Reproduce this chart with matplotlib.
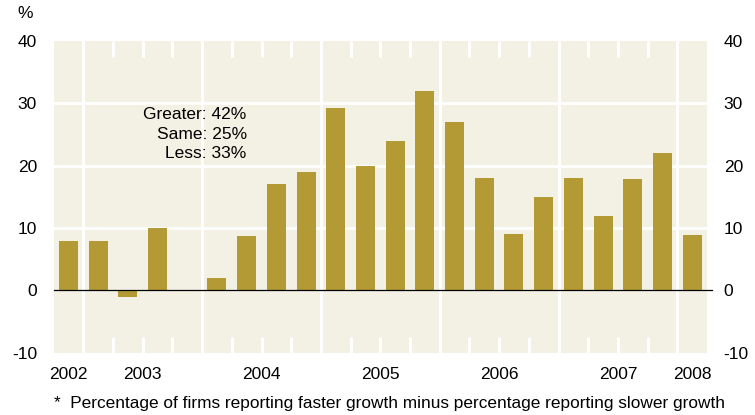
import matplotlib.pyplot as plt
import numpy as np

plt.rcParams['font.family'] = ['Liberation Sans', 'DejaVu Sans']

# quarterly-ish slots, 2002 .. 2008 (slot 4 has no value)
values = [8, 8, -1, 10, np.nan, 2, 8.8, 17, 19, 29.2, 20, 24, 32, 27, 18,
          9, 15, 18.1, 12, 17.8, 22, 8.9]
years = ['2002', '2003', '2004', '2005', '2006', '2007', '2008']
year_pos = [0, 2.5, 6.5, 10.5, 14.5, 18.5, 21]
year_bounds = [0.5, 4.5, 8.5, 12.5, 16.5, 20.5]
yticks = [-10, 0, 10, 20, 30, 40]
note_lines = ['Greater: 42%', 'Same: 25%', 'Less: 33%']

bar_color = '#B39A35'
bg = '#F3F0E4'
fs = 12.5

fig = plt.figure(figsize=(7.55, 4.15), dpi=100)
ax = fig.add_axes([0.071, 0.150, 0.8655, 0.751])
ax.set_facecolor(bg)
for s in ax.spines.values():
    s.set_visible(False)

x = np.arange(len(values))
ax.set_xlim(-0.5, len(values) - 0.5)
ax.set_ylim(-10, 40)

# white grid
for y in [10, 20, 30]:
    ax.axhline(y, color='white', lw=2, zorder=1)
for b in year_bounds:
    ax.axvline(b, color='white', lw=2.2, zorder=1)
short = [b + 0.5 for b in range(len(values) - 1) if b + 0.5 not in year_bounds]
ax.vlines(short, 37.4, 40, color='white', lw=2.2, zorder=1)
ax.vlines(short, -10, -7.4, color='white', lw=2.2, zorder=1)

ax.bar(x, values, width=0.64, color=bar_color, zorder=2)
ax.axhline(0, color='black', lw=0.9, zorder=3, xmax=1.007, clip_on=False)

ax.set_yticks(yticks)
ax.set_yticklabels([str(t) for t in yticks])
ax.tick_params(axis='y', length=0, labelsize=fs, labelleft=True, labelright=True, pad=12)
ax.set_xticks(year_pos)
ax.set_xticklabels(years)
ax.tick_params(axis='x', length=0, labelsize=fs, pad=10)

fig.text(17 / 755, 1 - 14 / 415, '%', fontsize=fs, va='center', ha='left')

for i, t in enumerate(note_lines):
    ax.text(6.0, 28.2 - i * 3.15, t, fontsize=fs, ha='right', va='center')

fig.text(54 / 755, 1 - 403 / 415,
         '*  Percentage of firms reporting faster growth minus percentage reporting slower growth',
         fontsize=12.4, va='center', ha='left')

fig.savefig('out.png', dpi=100)
